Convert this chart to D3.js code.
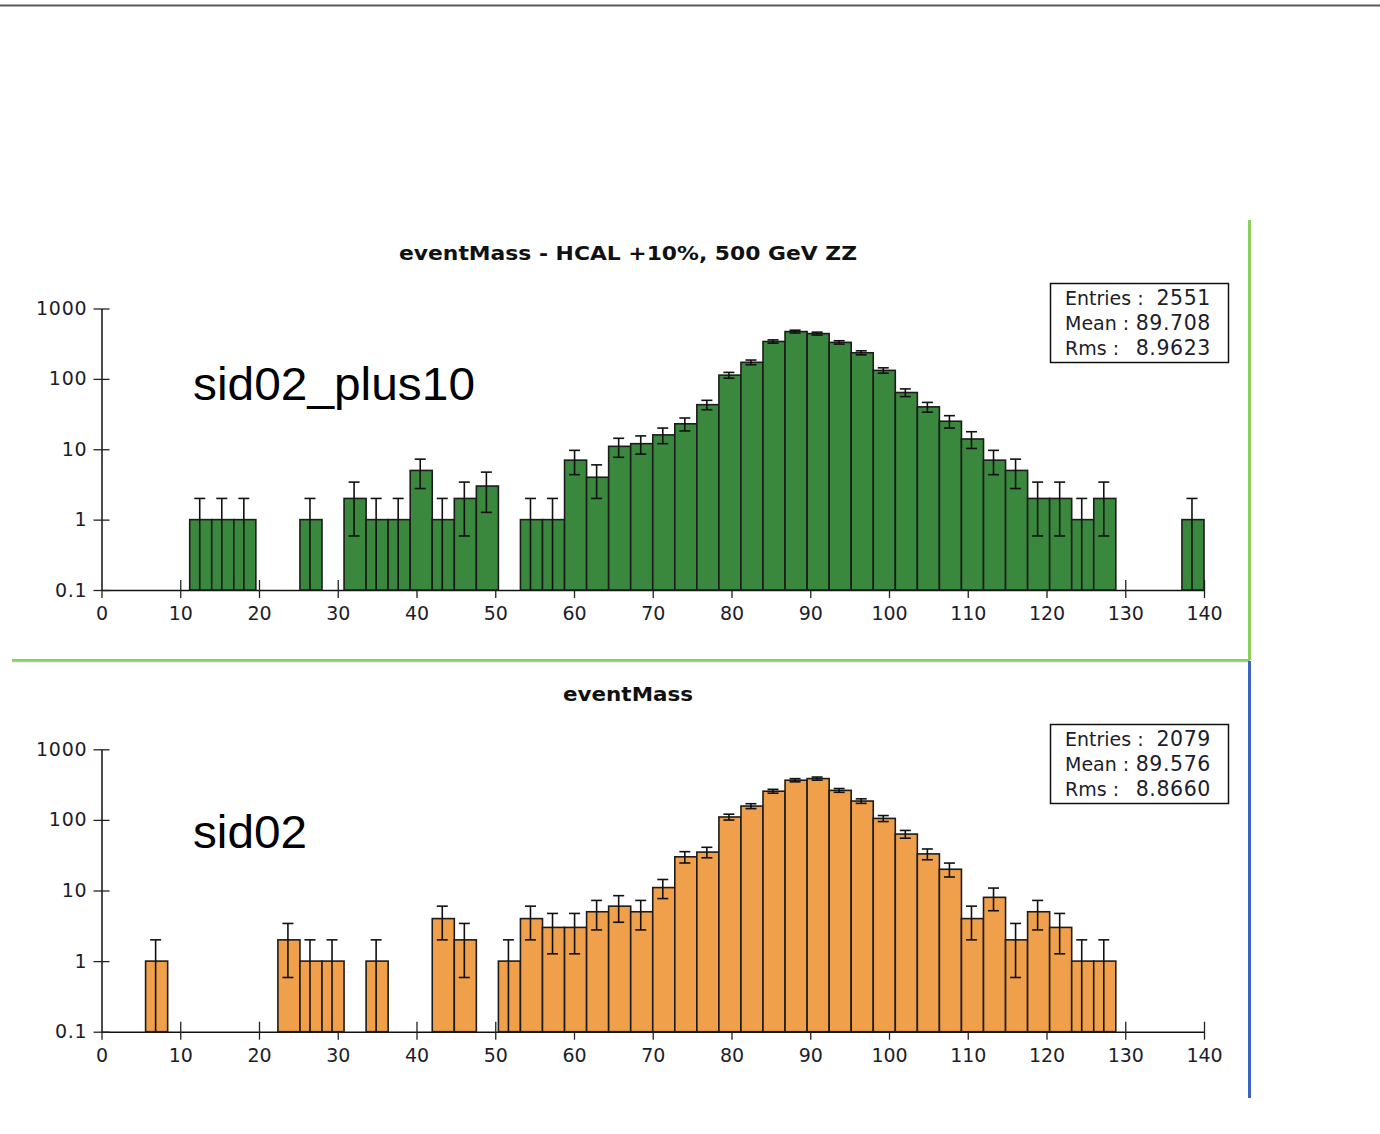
<!DOCTYPE html>
<html><head><meta charset="utf-8">
<script src="https://cdn.jsdelivr.net/npm/d3@7"></script>
<style>body{margin:0;background:#fff;} svg{display:block;}</style>
</head><body>
<svg id="c" width="1380" height="1134"></svg>
<script>
// ---------- data ----------
const binLow = 0, binHigh = 140, nBins = 50;
const countsPlus10 = [0,0,0,0,1,1,1,0,0,1, 0,2,1,1,5,1,2,3,0,1, 1,7,4,11,12,16,23,43,113,172, 340,470,440,330,235,132,64,40,25,14, 7,5,2,2,1,2,0,0,0,1];
const countsSid02  = [0,0,1,0,0,0,0,0,2,1, 1,0,1,0,0,4,2,0,1,4, 3,3,5,6,5,11,30,35,110,157, 255,365,385,262,185,105,63,33,20,4, 8,2,5,3,1,1,0,0,0,0];
const xTicks = [0,10,20,30,40,50,60,70,80,90,100,110,120,130,140];
const yTicks = [0.1,1,10,100,1000];
const yTickLabels = ["0.1","1","10","100","1000"];
const titles = ["eventMass - HCAL +10%, 500 GeV ZZ", "eventMass"];
const sampleNames = ["sid02_plus10", "sid02"];
const statLabels = ["Entries :", "Mean :", "Rms :"];
const statsPlus10 = ["2551", "89.708", "8.9623"];
const statsSid02  = ["2079", "89.576", "8.8660"];

// ---------- drawing ----------
const svg = d3.select("#c");
const binW = (binHigh - binLow) / nBins;
const x = d3.scaleLinear().domain([binLow, binHigh]).range([101.5, 1204]);

// frame lines
svg.append("line").attr("x1",0).attr("x2",1380).attr("y1",5.5).attr("y2",5.5).attr("stroke","#5a5a5a").attr("stroke-width",2);
svg.append("line").attr("x1",1249.5).attr("x2",1249.5).attr("y1",220).attr("y2",660).attr("stroke","#8ccf5c").attr("stroke-width",3);
svg.append("line").attr("x1",12).attr("x2",1249).attr("y1",661.5).attr("y2",661.5).attr("stroke","#b9b8ec").attr("stroke-width",1.5);
svg.append("line").attr("x1",12).attr("x2",1250).attr("y1",660).attr("y2",660).attr("stroke","#8ccf5c").attr("stroke-width",2);
svg.append("line").attr("x1",1249.5).attr("x2",1249.5).attr("y1",661).attr("y2",1098).attr("stroke","#3b63c2").attr("stroke-width",3);

const panels = [
  {counts: countsPlus10, fill: "#3a883e", title: titles[0], name: sampleNames[0], stats: statsPlus10,
   y0: 590, y1: 308.5, titleY: 260, titleLen: 458, nameY: 400, nameLen: 282, boxY: 283.5},
  {counts: countsSid02, fill: "#f0a04b", title: titles[1], name: sampleNames[1], stats: statsSid02,
   y0: 1031.7, y1: 749.3, titleY: 701, titleLen: 130, nameY: 848, nameLen: 114, boxY: 724.5}
];

const tickFont = "'DejaVu Sans', Verdana, sans-serif";

panels.forEach(p => {
  const g = svg.append("g");
  const y = d3.scaleLog().domain([0.1, 1000]).range([p.y0, p.y1]).clamp(true);
  const bins = p.counts.map((c, i) => ({i, c, lo: binLow + i*binW, hi: binLow + (i+1)*binW}));
  const filled = bins.filter(b => b.c > 0);

  // x axis
  const xa = g.append("g").attr("transform", `translate(0,${p.y0})`)
    .call(d3.axisBottom(x).tickValues(xTicks).tickFormat(d3.format("d")).tickSizeInner(8).tickSizeOuter(0).tickPadding(9));
  xa.select(".domain").attr("stroke","#111").attr("stroke-width",1.5);
  xa.selectAll(".tick line").attr("y1", d => d === 0 ? 0 : -10).attr("stroke","#222").attr("stroke-width",1.3);
  xa.selectAll(".tick text").attr("font-family", tickFont).attr("font-size", 19).attr("fill","#1d1d2b");

  // bars
  g.append("g").selectAll("rect").data(filled).join("rect")
    .attr("x", d => x(d.lo)).attr("width", d => x(d.hi) - x(d.lo))
    .attr("y", d => y(d.c)).attr("height", d => p.y0 - y(d.c))
    .attr("fill", p.fill).attr("stroke", "#1c1c1c").attr("stroke-width", 1.6);

  // error bars (sqrt N)
  const eb = g.append("g").attr("stroke", "#111").attr("stroke-width", 1.6);
  filled.forEach(d => {
    const cx = x((d.lo + d.hi) / 2) - 1;
    const e = Math.sqrt(d.c);
    const up = d.c + e, dn = d.c - e;
    const yUp = y(up), yDn = dn > 0.1 ? y(dn) : p.y0;
    eb.append("line").attr("x1", cx).attr("x2", cx).attr("y1", yUp).attr("y2", yDn);
    eb.append("line").attr("x1", cx - 5.5).attr("x2", cx + 5.5).attr("y1", yUp).attr("y2", yUp);
    if (dn > 0.1) eb.append("line").attr("x1", cx - 5.5).attr("x2", cx + 5.5).attr("y1", yDn).attr("y2", yDn);
  });

  // y axis
  const ya = g.append("g").attr("transform", `translate(${x(0)},0)`)
    .call(d3.axisLeft(y).tickValues(yTicks).tickFormat((d, i) => yTickLabels[i]).tickSizeInner(8).tickSizeOuter(0).tickPadding(6));
  ya.select(".domain").attr("stroke","#111").attr("stroke-width",1.5);
  ya.selectAll(".tick line").attr("x1", 8).attr("stroke","#222").attr("stroke-width",1.3);
  ya.selectAll(".tick text").attr("font-family", tickFont).attr("font-size", 19).attr("letter-spacing", 0.8).attr("fill","#1d1d2b");

  // title
  g.append("text").attr("x", 628).attr("y", p.titleY).attr("text-anchor","middle")
    .attr("font-family", tickFont).attr("font-weight","bold").attr("font-size", 20)
    .attr("textLength", p.titleLen).attr("lengthAdjust","spacingAndGlyphs")
    .attr("fill","#111").text(p.title);

  // sample name
  g.append("text").attr("x", 193).attr("y", p.nameY)
    .attr("font-family", "'Liberation Sans', Arial, sans-serif").attr("font-size", 46)
    .attr("textLength", p.nameLen).attr("lengthAdjust","spacingAndGlyphs")
    .attr("fill","#000").text(p.name);

  // stats box
  g.append("rect").attr("x", 1050.5).attr("y", p.boxY).attr("width", 178).attr("height", 79)
    .attr("fill","#fff").attr("stroke","#111").attr("stroke-width",1.5);
  statLabels.forEach((lab, i) => {
    const by = p.boxY + 21.5 + i * 25;
    g.append("text").attr("x", 1065).attr("y", by).attr("font-family", tickFont).attr("font-size", 19)
      .attr("fill","#1d1d2b").text(lab);
    g.append("text").attr("x", 1211).attr("y", by).attr("text-anchor","end").attr("font-family", tickFont).attr("font-size", 20.5)
      .attr("letter-spacing", 0.6).attr("fill","#1d1d2b").text(p.stats[i]);
  });
});
</script>
</body></html>
